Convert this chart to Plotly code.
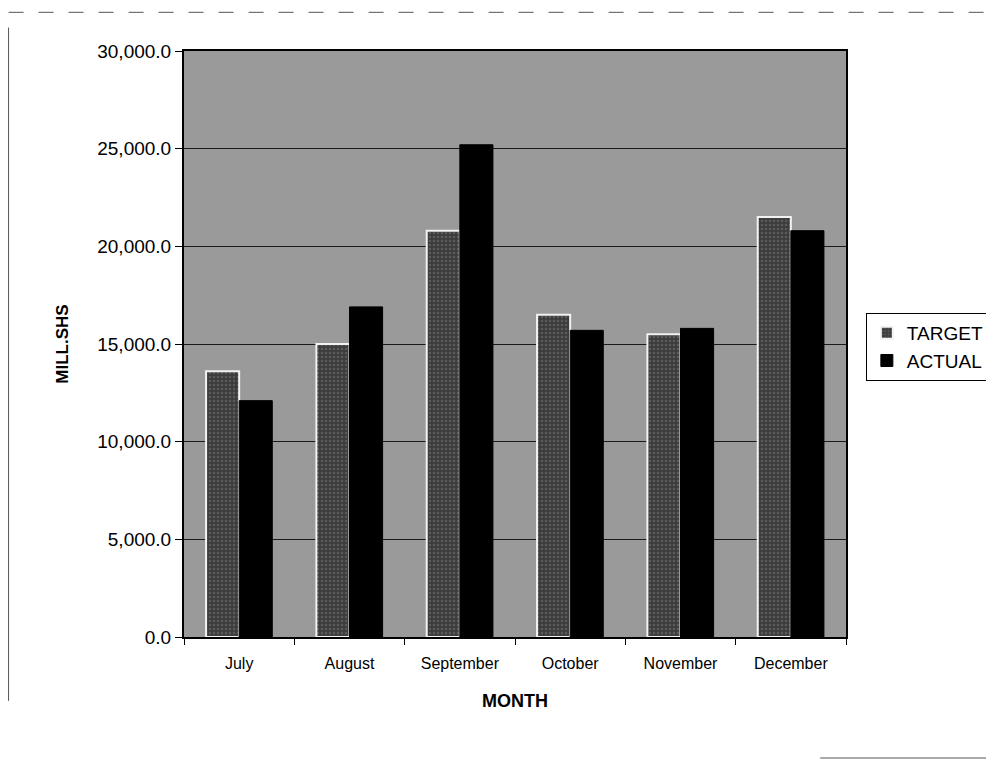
import plotly.graph_objects as go

months = ["July", "August", "September", "October", "November", "December"]
target = [13600, 15000, 20800, 16500, 15500, 21500]
actual = [12100, 16900, 25200, 15700, 15800, 20800]
y_ticks = [0, 5000, 10000, 15000, 20000, 25000, 30000]

fig = go.Figure()
fig.add_trace(go.Bar(
    x=months, y=target, name="TARGET",
    marker=dict(color="#505050", line=dict(color="#f2f2f2", width=2),
                pattern=dict(shape=".", fgcolor="#7a7a7a", bgcolor="#3c3c3c", size=4, solidity=0.3)),
))
fig.add_trace(go.Bar(
    x=months, y=actual, name="ACTUAL",
    marker=dict(color="#000000", line=dict(color="#000000", width=1)),
))

font_family = "Liberation Sans, Arial, sans-serif"
fig.update_layout(
    width=994, height=760,
    margin=dict(l=176, r=148, t=43, b=131),
    paper_bgcolor="white",
    plot_bgcolor="#9a9a9a",
    barmode="group", bargap=0.4, bargroupgap=0,
    font=dict(family=font_family, size=16, color="black"),
    showlegend=True,
    legend=dict(x=1.03, y=0.553, xanchor="left", yanchor="top",
                bordercolor="black", borderwidth=1, bgcolor="white",
                font=dict(size=19), traceorder="normal", itemwidth=30,
                tracegroupgap=4),
    xaxis=dict(
        title=dict(text="<b>MONTH</b>", font=dict(size=18), standoff=23),
        showline=True, linecolor="black", linewidth=2,
        ticks="outside", tickson="boundaries", ticklen=6, tickcolor="black",
        tickfont=dict(size=16), ticklabelstandoff=11, mirror=True,
    ),
    yaxis=dict(
        title=dict(text="<b>MILL.SHS</b>", font=dict(size=17), standoff=24),
        range=[0, 30000], tickvals=y_ticks, tickformat=",.1f",
        showgrid=True, gridcolor="#1a1a1a", gridwidth=1,
        showline=True, linecolor="black", linewidth=2, mirror=True,
        ticks="outside", ticklen=7, tickcolor="black",
        tickfont=dict(size=19), zeroline=False,
    ),
    shapes=[
        dict(type="line", xref="paper", yref="paper", x0=-0.265, x1=1.24, y0=1.066, y1=1.066,
             line=dict(color="#555", width=1, dash="longdash")),
        dict(type="line", xref="paper", yref="paper", x0=-0.265, x1=-0.265, y0=1.04, y1=-0.109,
             line=dict(color="#555", width=1)),
        dict(type="line", xref="paper", yref="paper", x0=0.961, x1=1.24, y0=-0.2065, y1=-0.2065,
             line=dict(color="#555", width=1)),
    ],
)

fig.write_html("out.html")
